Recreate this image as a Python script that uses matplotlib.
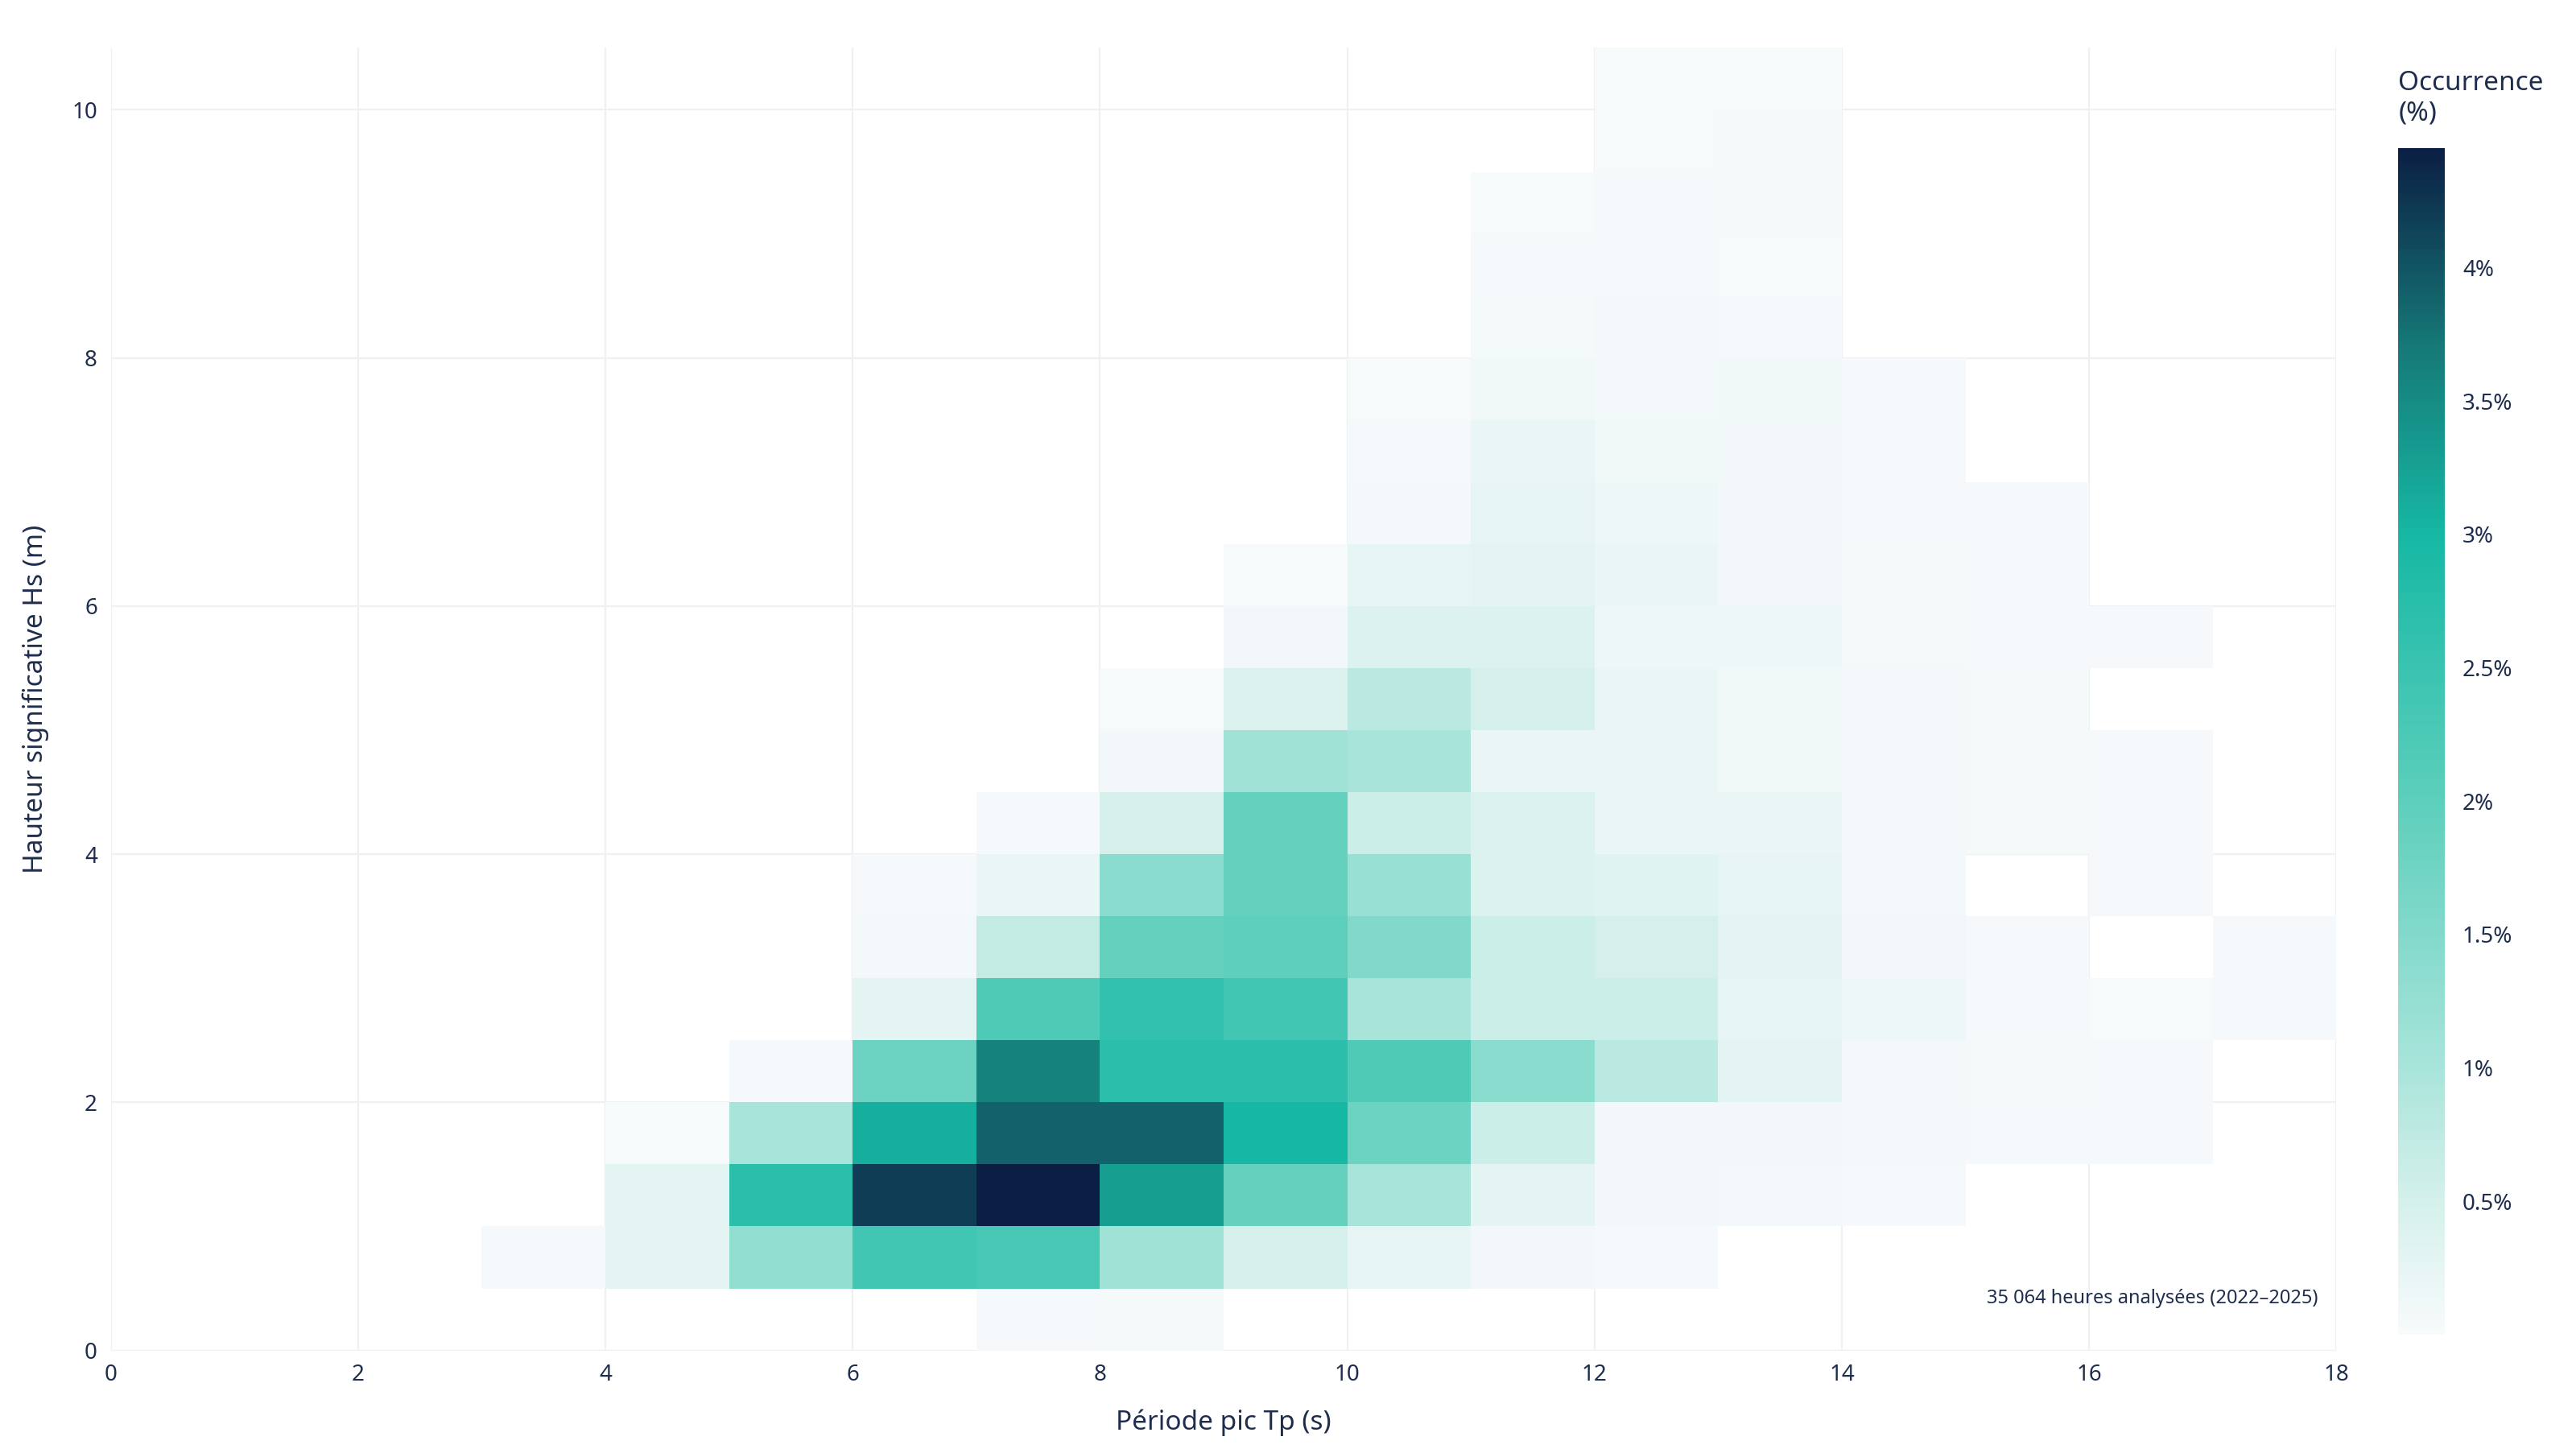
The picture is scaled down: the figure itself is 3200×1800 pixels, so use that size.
import numpy as np
import matplotlib
matplotlib.use("Agg")
import matplotlib.pyplot as plt
from matplotlib.colors import LinearSegmentedColormap
from matplotlib.ticker import FuncFormatter

plt.rcParams['font.family'] = ['Noto Sans', 'DejaVu Sans']

tp_edges = np.arange(0, 19, 1.0)          # Période pic Tp (s)
hs_edges = np.arange(0, 10.51, 0.5)       # Hauteur Hs (m)

# occurrence (%) rows = Hs bins (0-0.5 upward), cols = Tp bins 0..17
occ_rows = [
 [0,0,0,0,0,0,0,0.04,0.06,0,0,0,0,0,0,0,0,0],
 [0,0,0,0.05,0.3,1.3,2.4,2.3,1.1,0.5,0.25,0.1,0.05,0,0,0,0,0],
 [0,0,0,0,0.3,2.7,4.2,4.5,3.3,1.9,1.0,0.3,0.1,0.07,0.05,0,0,0],
 [0,0,0,0,0.03,1.0,3.1,3.9,3.9,3.0,1.8,0.6,0.1,0.1,0.07,0.05,0.04,0],
 [0,0,0,0,0,0.05,1.8,3.6,2.7,2.7,2.2,1.4,0.8,0.3,0.07,0.06,0.04,0],
 [0,0,0,0,0,0,0.3,2.2,2.6,2.4,1.0,0.6,0.6,0.25,0.15,0.04,0.02,0.05],
 [0,0,0,0,0,0,0.08,0.7,1.9,2.0,1.5,0.6,0.5,0.3,0.1,0.04,0,0.05],
 [0,0,0,0,0,0,0.05,0.2,1.4,1.9,1.2,0.4,0.35,0.25,0.08,0,0.04,0],
 [0,0,0,0,0,0,0,0.05,0.5,1.9,0.6,0.4,0.2,0.2,0.08,0.06,0.04,0],
 [0,0,0,0,0,0,0,0,0.1,1.1,1.0,0.2,0.2,0.12,0.08,0.06,0.04,0],
 [0,0,0,0,0,0,0,0,0.03,0.4,0.8,0.5,0.2,0.12,0.08,0.06,0,0],
 [0,0,0,0,0,0,0,0,0,0.1,0.4,0.4,0.15,0.15,0.06,0.05,0.05,0],
 [0,0,0,0,0,0,0,0,0,0.03,0.25,0.3,0.2,0.1,0.06,0.04,0,0],
 [0,0,0,0,0,0,0,0,0,0,0.07,0.25,0.15,0.1,0.05,0.04,0,0],
 [0,0,0,0,0,0,0,0,0,0,0.04,0.2,0.12,0.1,0.05,0,0,0],
 [0,0,0,0,0,0,0,0,0,0,0.03,0.12,0.08,0.12,0.05,0,0,0],
 [0,0,0,0,0,0,0,0,0,0,0,0.06,0.08,0.05,0,0,0,0],
 [0,0,0,0,0,0,0,0,0,0,0,0.04,0.05,0.03,0,0,0,0],
 [0,0,0,0,0,0,0,0,0,0,0,0.03,0.04,0.06,0,0,0,0],
 [0,0,0,0,0,0,0,0,0,0,0,0,0.03,0.06,0,0,0,0],
 [0,0,0,0,0,0,0,0,0,0,0,0,0.02,0.02,0,0,0,0],
]
cbar_ticks = [0.5, 1, 1.5, 2, 2.5, 3, 3.5, 4]
vmax = 4.45
navy = '#1f2d4d'

occ = np.ma.masked_equal(np.array(occ_rows), 0)

cmap = LinearSegmentedColormap.from_list('oc', [
    (0.0, '#f8fafc'), (0.5/vmax, '#d4f0eb'), (1.0/vmax, '#a8e4da'),
    (2.0/vmax, '#5dcfbc'), (3.0/vmax, '#16b8a4'), (3.7/vmax, '#167a78'),
    (1.0, '#0b1f44')])

fig = plt.figure(figsize=(16, 9), dpi=200)
ax = fig.add_axes([0.043, 0.068, 0.864, 0.899])
mesh = ax.pcolormesh(tp_edges, hs_edges, occ, cmap=cmap, vmin=0, vmax=vmax, zorder=2)
ax.set_xlim(0, 18); ax.set_ylim(0, 10.5)
ax.set_xticks(range(0, 19, 2)); ax.set_yticks(range(0, 11, 2))
ax.grid(True, color='#eef0f3', lw=0.8, zorder=0)
for s in ax.spines.values(): s.set_visible(False)
ax.tick_params(length=0, labelsize=10, colors=navy, pad=6)
ax.set_xlabel('Période pic Tp (s)', fontsize=12, color=navy, labelpad=10)
ax.set_ylabel('Hauteur significative Hs (m)', fontsize=12, color=navy, labelpad=10)
ax.text(17.85, 0.42, '35 064 heures analysées (2022–2025)', ha='right', va='center',
        fontsize=8.5, color=navy, zorder=3)

cax = fig.add_axes([0.931, 0.079, 0.018, 0.819])
cb = fig.colorbar(mesh, cax=cax, ticks=cbar_ticks)
cb.outline.set_visible(False)
cb.ax.tick_params(length=0, labelsize=10, colors=navy, pad=8)
cb.ax.yaxis.set_major_formatter(FuncFormatter(lambda v, p: f'{v:g}%'))
fig.text(0.931, 0.932, 'Occurrence\n(%)', fontsize=12, color=navy, va='center', ha='left')

fig.savefig('out.png', facecolor='white')
